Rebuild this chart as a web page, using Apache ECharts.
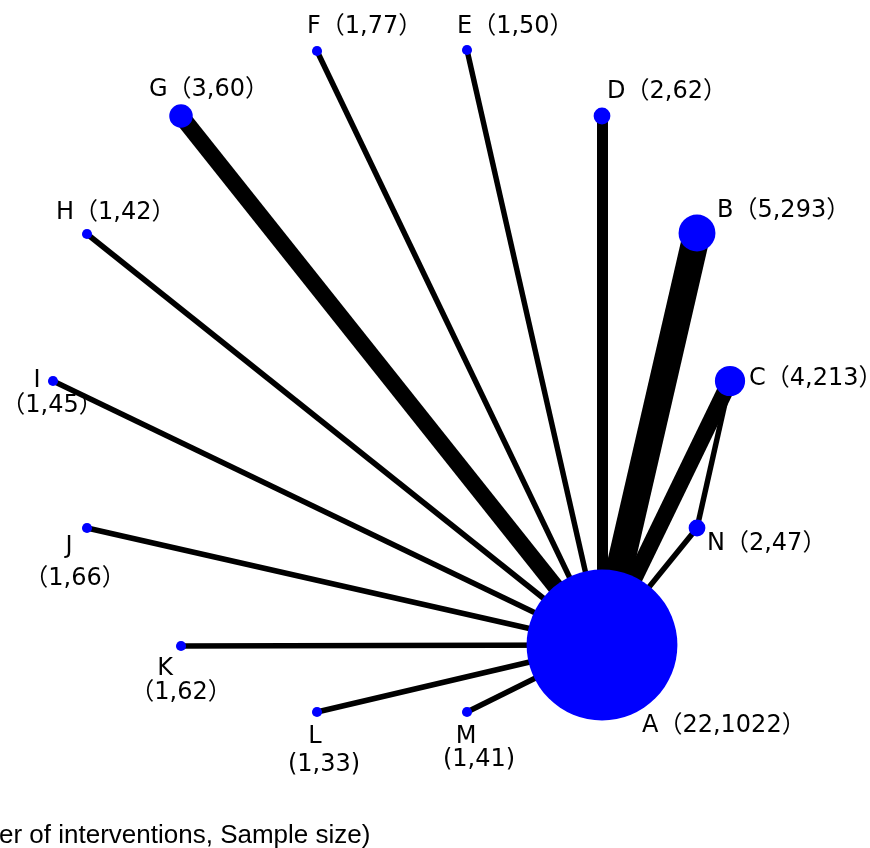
<!DOCTYPE html>
<html>
<head>
<meta charset="utf-8">
<script src="https://cdn.jsdelivr.net/npm/echarts@6/dist/echarts.min.js"></script>
<style>
html,body{margin:0;padding:0;background:#fff;}
#chart{width:870px;height:848px;}
</style>
</head>
<body>
<div id="chart"></div>
<script>
// ---- data ----
const names = ['A','B','C','D','E','F','G','H','I','J','K','L','M','N'];
const interventions = [22,5,4,2,1,1,3,1,1,1,1,1,1,2];
const sampleSizes = [1022,293,213,62,50,77,60,42,45,66,62,33,41,47];
// network layout coordinates
const layoutX = [602,697,730,602,467,317,181,87,53,87,181,317,467,697];
const layoutY = [645,233,381,116,50,51,116,234,381,528,646,712,712,528];
// comparisons
const linkSources = ['A','A','A','A','A','A','A','A','A','A','A','A','A','C'];
const linkTargets = ['B','C','D','E','F','G','H','I','J','K','L','M','N','N'];
const linkStudies = [5,3,2,1,1,3,1,1,1,1,1,1,1,1];
const footnote = '(Number of interventions, Sample size)';

// ---- label placement (style) ----
const labelFont = '"DejaVu Sans", "Noto Sans CJK SC", sans-serif';
const labelSize = 24;
const singleLabels = {A:[40,81],B:[20,-22],C:[19,-2],D:[5,-24],E:[-10,-23],F:[-10,-24],G:[-32,-26],H:[-31,-21],N:[10,16]};
const multiLabels = {
  I:{off:[-1,12.5],h:25,pr:30,half:false},
  J:{off:[-12,35],h:32,pr:12,half:false},
  K:{off:[0,35],h:24,pr:32,half:false},
  L:{off:[7,39],h:28,pr:18,half:true},
  M:{off:[12,36.5],h:23,pr:26,half:true}
};

const nodes = names.map((n, i) => {
  const item = {
    name: n,
    value: [layoutX[i], layoutY[i]],
    symbolSize: 3.4 + 6.7 * interventions[i]
  };
  if (singleLabels[n]) {
    item.label = {
      show: true, position: 'inside', align: 'left', verticalAlign: 'middle',
      offset: singleLabels[n],
      formatter: n + '（' + interventions[i] + ',' + sampleSizes[i] + '）'
    };
  } else {
    const m = multiLabels[n];
    const o = m.half ? '(' : '（', c = m.half ? ')' : '）';
    item.label = {
      show: true, position: 'inside', align: 'center', verticalAlign: 'middle',
      offset: m.off,
      formatter: '{n|' + n + '}\n{v|' + o + interventions[i] + ',' + sampleSizes[i] + c + '}',
      rich: {
        n: {align: 'center', lineHeight: m.h, padding: [0, m.pr, 0, 0], fontSize: labelSize, fontFamily: labelFont, color: '#000'},
        v: {align: 'center', lineHeight: m.h, fontSize: labelSize, fontFamily: labelFont, color: '#000'}
      }
    };
  }
  return item;
});

const links = linkSources.map((s, i) => ({
  source: s, target: linkTargets[i],
  lineStyle: {width: 5.5 * linkStudies[i]}
}));

const chart = echarts.init(document.getElementById('chart'), null, {renderer: 'canvas'});
chart.setOption({
  animation: false,
  backgroundColor: '#fff',
  grid: {left: 0, right: 0, top: 0, bottom: 0},
  xAxis: {type: 'value', min: 0, max: 870, show: false},
  yAxis: {type: 'value', min: 0, max: 848, inverse: true, show: false},
  series: [{
    type: 'graph',
    coordinateSystem: 'cartesian2d',
    symbol: 'circle',
    itemStyle: {color: '#0000FF'},
    lineStyle: {color: '#000', opacity: 1, curveness: 0},
    label: {color: '#000', fontSize: labelSize, fontFamily: labelFont},
    emphasis: {disabled: true},
    data: nodes,
    links: links
  }],
  graphic: [{
    type: 'text',
    x: -79, y: 836,
    style: {
      text: footnote,
      font: '26px "Liberation Sans", Arial, sans-serif',
      fill: '#000',
      verticalAlign: 'middle'
    }
  }]
});
</script>
</body>
</html>
